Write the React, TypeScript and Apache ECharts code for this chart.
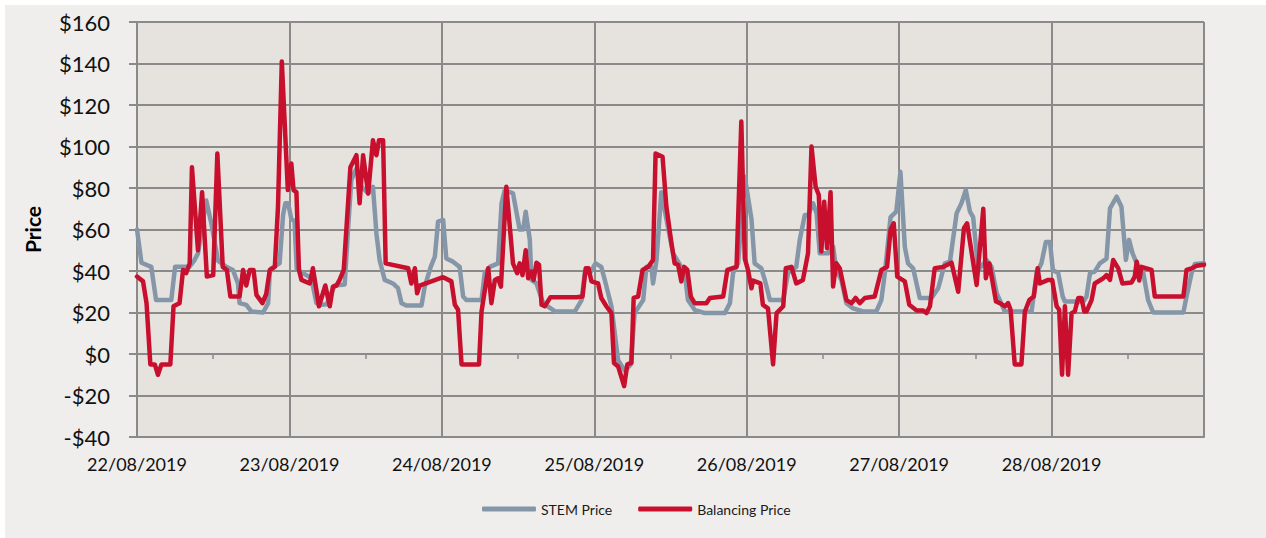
import React, { useEffect, useRef } from "react";
import * as echarts from "echarts";

// x = half-hour interval index from 22/08/2019 00:00 (48 per day)
const dayLabels = ["22/08/2019", "23/08/2019", "24/08/2019", "25/08/2019", "26/08/2019", "27/08/2019", "28/08/2019"];
const yTicks = { min: -40, max: 160, step: 20 };

const stemPrice: [number, number][] = [
  [0, 60], [1.4, 44], [4.5, 42], [6, 26], [10.8, 26], [12, 42], [16.5, 42], [18, 45], [19.2, 48.5],
  [21.8, 74], [23.4, 63], [25.5, 45], [28.1, 42], [30.2, 40.5], [31.8, 34], [32.3, 24.5], [34.4, 23.7],
  [36, 20.5], [39.7, 20], [41.3, 24.5], [41.8, 39], [42.3, 41.3], [44.9, 43.7], [46, 67], [46.7, 72.6],
  [47.6, 72.6], [48.6, 65], [49.6, 64], [50.3, 41], [52.3, 39], [54.9, 36.5], [56.5, 24.5], [58.1, 23.7],
  [59.8, 24], [60.7, 28], [62.3, 33], [65.4, 33.5], [66.5, 61], [67.5, 84], [69.1, 89.4], [70.7, 80.6],
  [72.8, 77.4], [74.3, 80.6], [75.4, 58], [76.4, 45.3], [78, 35.7], [80.6, 34], [82.2, 31.7], [83.3, 24.5],
  [84.8, 23.4], [89.6, 23.4], [90.6, 32.5], [92.5, 42], [93.8, 47], [94.8, 63.8], [96.4, 64.6], [97.4, 46],
  [99.5, 44.5], [101.6, 42], [102.7, 27.7], [103.7, 26], [108.5, 26], [109.5, 39], [111.1, 42], [113.7, 43.7],
  [114.8, 72.6], [115.8, 79], [118.4, 77.4], [120.5, 60], [121.6, 60], [122.4, 68.6], [123.7, 55], [124.2, 35.7],
  [125.8, 34], [127.9, 24.5], [131.6, 20.5], [137.9, 20.5], [140, 26], [141, 39], [142.6, 39], [144.4, 43.7],
  [146.2, 42], [147.3, 35.7], [149.4, 23], [151.5, -3], [153.6, -8], [155.5, -5], [156.7, 19.7], [159.4, 26],
  [160.4, 42], [162, 42], [162.5, 34], [163.6, 45.3], [165.1, 78], [167.2, 61], [168.8, 48.5], [170.4, 44.5],
  [172.5, 39], [173.5, 26], [175.6, 21.3], [178.8, 19.7], [185.1, 19.7], [186.7, 24.5], [187.7, 39], [189.3, 43.7],
  [191.4, 85.4], [193.5, 65], [194.5, 43.7], [196.6, 41.3], [197.7, 35.7], [199.3, 26], [203.5, 26], [205, 39],
  [207.6, 42], [208.7, 55], [210.3, 67], [211.3, 67], [212.9, 72.6], [214, 67.8], [215, 48.5], [217.6, 48.5],
  [219.2, 51.8], [220.2, 40.5], [221.8, 35.7], [223.4, 24.5], [225.5, 22], [228.6, 20.5], [232.8, 20.5],
  [234.4, 26], [235.5, 39], [237.3, 66], [239.1, 68.6], [240.4, 87.8], [241.8, 51.5], [242.8, 43.7],
  [244.4, 41.3], [246.5, 27], [250.2, 27], [252.3, 31.7], [254.4, 43.7], [256, 44.5], [258.1, 67.8],
  [259.6, 72.6], [261, 79], [262.3, 68.6], [263.3, 66], [264.9, 40.5], [267.5, 45.3], [269.1, 42],
  [270.7, 29.3], [273.3, 20.5], [281.7, 20.5], [283.3, 39], [284.8, 43.7], [286.2, 54], [287.5, 54],
  [288.4, 40.5], [290.1, 39], [291.5, 27.7], [292.2, 25.3], [298, 25.3], [299, 27.7], [300.1, 39],
  [301.6, 39.7], [303.2, 43.7], [305.3, 46], [306.4, 70.2], [308.5, 75.8], [310, 71], [311.4, 45.3],
  [312.4, 55], [313.5, 48.5], [314.8, 43.7], [316.9, 39], [318.4, 26], [320, 20], [329.5, 20], [330.5, 27.7],
  [332.1, 39], [333.1, 43.4], [336, 43.7],
];

const balancingPrice: [number, number][] = [
  [0, 37.3], [1.9, 35], [3, 24.5], [4.2, -5], [5.6, -5], [6.6, -10], [7.7, -5], [10.5, -5], [11.5, 23],
  [12.4, 23.7], [13.4, 24.5], [14.5, 40.5], [15.5, 39], [16.6, 43.7], [17.3, 90], [19.2, 50], [20.5, 78],
  [22, 37.3], [24, 38], [25.3, 96.6], [27, 42], [28.3, 40.5], [29.4, 27.7], [32.3, 27.7], [33.4, 40.5],
  [34.4, 33], [35.5, 40.5], [36.7, 40.5], [37.6, 28.5], [39.5, 24.5], [40.7, 29], [41.8, 40.5], [43.4, 42],
  [44.4, 71], [45.6, 141], [47.5, 79], [48.6, 91.8], [49.3, 79], [50.2, 78], [51, 40.5], [51.8, 35.7],
  [54.4, 34], [55.4, 41.3], [57.3, 23], [59.3, 33], [60.7, 23], [61.7, 32.5], [62.8, 33], [63.8, 35.7],
  [65.1, 40.5], [67.2, 90], [69.1, 95.8], [70.1, 72.6], [71.2, 95.8], [72.8, 77.4], [74.3, 103], [75.4, 95.8],
  [76.2, 103], [77.5, 103], [78.3, 43.7], [85.4, 41.3], [86.4, 34], [87.5, 41.3], [88.2, 29.3], [89, 33],
  [96.4, 37], [99, 35], [100.1, 23.7], [101.1, 21.3], [102.2, -5], [107.7, -5], [108.5, 20.5], [110.6, 41.3],
  [111.6, 24.5], [112.7, 35.7], [113.7, 36.5], [114.6, 32.5], [116.3, 80.6], [118.4, 43.7], [119.7, 39],
  [120.5, 43.7], [121.4, 38], [122.4, 50], [123.2, 36.5], [124.2, 39.7], [124.9, 35.7], [125.8, 44],
  [126.6, 43], [127.4, 23.7], [128.4, 23], [130.2, 27.4], [138.4, 27.4], [140.3, 27.7], [141.3, 41.3],
  [142.2, 41.3], [143.1, 35], [145.2, 34], [146.2, 27], [147.8, 23], [149.4, 19.7], [150.2, -4.3], [151.5, -6],
  [153.4, -15.5], [154.4, -5], [155.7, -4.3], [156.4, 27], [157.8, 27.7], [159.2, 40.5], [161, 42],
  [162.5, 45.3], [163.3, 96.6], [165.5, 95], [166.7, 71], [168.3, 53.4], [169.3, 43.7], [170.4, 43],
  [171.4, 35], [172.3, 42], [173.3, 40.5], [174.4, 27.7], [175.6, 24.5], [179.3, 24.5], [180.4, 27],
  [184.6, 27.7], [185.9, 40.5], [188.8, 42], [190.3, 112], [191.4, 46], [192.4, 40.5], [193.5, 31.7],
  [194, 35.4], [196.3, 34], [197.1, 23.7], [198.7, 22], [200.3, -5], [201.4, 19.7], [203.5, 23], [204.3, 41.3],
  [206.1, 42], [207.6, 34], [209.7, 35.7], [211.3, 48.5], [212.4, 100], [213.7, 80.6], [214.7, 76.6],
  [215.5, 49.4], [216.4, 73.4], [217.3, 51], [218.4, 78], [219.2, 32.5], [220.2, 43.7], [221.3, 41.3],
  [223.4, 26], [225, 24.5], [226.3, 27], [227.6, 24.5], [229.2, 27], [232.3, 27.7], [234.4, 40.5], [236.2, 42],
  [237.3, 60], [238.3, 63], [239.4, 37.3], [241.8, 35], [243.2, 23.7], [245.5, 21], [247.6, 21], [248.6, 19.7],
  [249.7, 23], [251.2, 41.3], [253.9, 42], [256.5, 44], [258.6, 30], [260.4, 60.6], [261.4, 63], [264.4, 33.3],
  [266.5, 70], [267.3, 36.5], [268.4, 43.7], [270.5, 25.3], [271.7, 24.5], [273.3, 23], [274.3, 24.5],
  [275.1, 21.3], [276.4, -5], [278.5, -5], [279.6, 20.5], [281, 26], [282.4, 27.7], [283.6, 41.3], [284.3, 34],
  [286.9, 35.7], [288.2, 35.7], [289.6, 23], [290.4, 21.3], [291.3, -10], [292.2, 23], [293.2, -10],
  [294.3, 19.7], [295.3, 20.5], [296.4, 27], [297.4, 27], [298.3, 20.5], [299, 20.5], [300.6, 26], [301.6, 34],
  [304.3, 36.5], [305.3, 38], [306.4, 35.7], [307.4, 45.3], [309, 41.3], [310.3, 34], [313.2, 34.5],
  [314.2, 37.3], [314.8, 44.5], [315.6, 35.4], [316.3, 42], [319.5, 40.5], [320.5, 27.7], [329.5, 27.7],
  [330.5, 40.5], [332.1, 41.3], [333.7, 42.5], [336, 43],
];

const PER_DAY = 48;
const FONT = "Lato";
const GRID_COLOR = "#8A8A8A";
const STEM_COLOR = "#8496A8";
const BAL_COLOR = "#C8102E";

export default function App() {
  const ref = useRef<HTMLDivElement>(null);

  useEffect(() => {
    if (!ref.current) return;
    const chart = echarts.init(ref.current, null, { renderer: "svg" });
    chart.setOption({
      animation: false,
      backgroundColor: "#EFEEEC",
      textStyle: { fontFamily: FONT },
      grid: {
        left: 132,
        top: 17,
        right: 62,
        bottom: 101,
        show: true,
        backgroundColor: "#E6E3DF",
        borderWidth: 0,
      },
      legend: {
        left: 472,
        top: 492,
        itemWidth: 54,
        itemHeight: 5,
        itemGap: 26,
        icon: "roundRect",
        textStyle: { fontFamily: FONT, fontSize: 14, color: "#1a1a1a" },
        data: ["STEM Price", "Balancing Price"],
      },
      xAxis: [
        {
          type: "value",
          min: 0,
          max: dayLabels.length * PER_DAY,
          interval: PER_DAY,
          position: "bottom",
          axisLine: { show: true, onZero: false, lineStyle: { color: GRID_COLOR, width: 2 } },
          axisTick: { show: false },
          splitLine: { show: true, lineStyle: { color: GRID_COLOR, width: 2 } },
          axisLabel: {
            margin: 18,
            fontFamily: FONT,
            fontSize: 18,
            color: "#111",
            formatter: (v: number) => dayLabels[Math.round(v / PER_DAY)] ?? "",
          },
        },
        {
          type: "value",
          min: 0,
          max: dayLabels.length * PER_DAY,
          interval: PER_DAY / 2,
          position: "bottom",
          axisLine: { show: false, onZero: true },
          axisTick: { show: true, length: 5, lineStyle: { color: GRID_COLOR, width: 1.5 } },
          axisLabel: { show: false },
          splitLine: { show: false },
        },
      ],
      yAxis: {
        type: "value",
        min: yTicks.min,
        max: yTicks.max,
        interval: yTicks.step,
        name: "Price",
        nameLocation: "middle",
        nameGap: 94,
        nameTextStyle: { fontFamily: FONT, fontSize: 21, fontWeight: "bold", color: "#000" },
        axisLine: { show: true, lineStyle: { color: GRID_COLOR, width: 2 } },
        axisTick: { show: true, length: 8, lineStyle: { color: GRID_COLOR, width: 2 } },
        splitLine: { show: true, lineStyle: { color: GRID_COLOR, width: 2 } },
        axisLabel: {
          margin: 27,
          fontFamily: FONT,
          fontSize: 22,
          color: "#111",
          formatter: (v: number) => (v < 0 ? "-$" + Math.abs(v) : "$" + v),
        },
      },
      series: [
        {
          name: "STEM Price",
          type: "line",
          xAxisIndex: 0,
          data: stemPrice,
          symbol: "none",
          color: STEM_COLOR,
          lineStyle: { width: 4.5, color: STEM_COLOR, join: "round", cap: "round" },
        },
        {
          name: "Balancing Price",
          type: "line",
          xAxisIndex: 0,
          data: balancingPrice,
          symbol: "none",
          color: BAL_COLOR,
          lineStyle: { width: 4.5, color: BAL_COLOR, join: "round", cap: "round" },
        },
      ],
    });
    return () => chart.dispose();
  }, []);

  return (
    <div style={{ position: "fixed", left: 0, top: 0, width: 1266, height: 538, background: "#FFFFFF" }}>
      <div ref={ref} style={{ position: "absolute", left: 5, top: 5, width: 1261, height: 533 }} />
    </div>
  );
}
